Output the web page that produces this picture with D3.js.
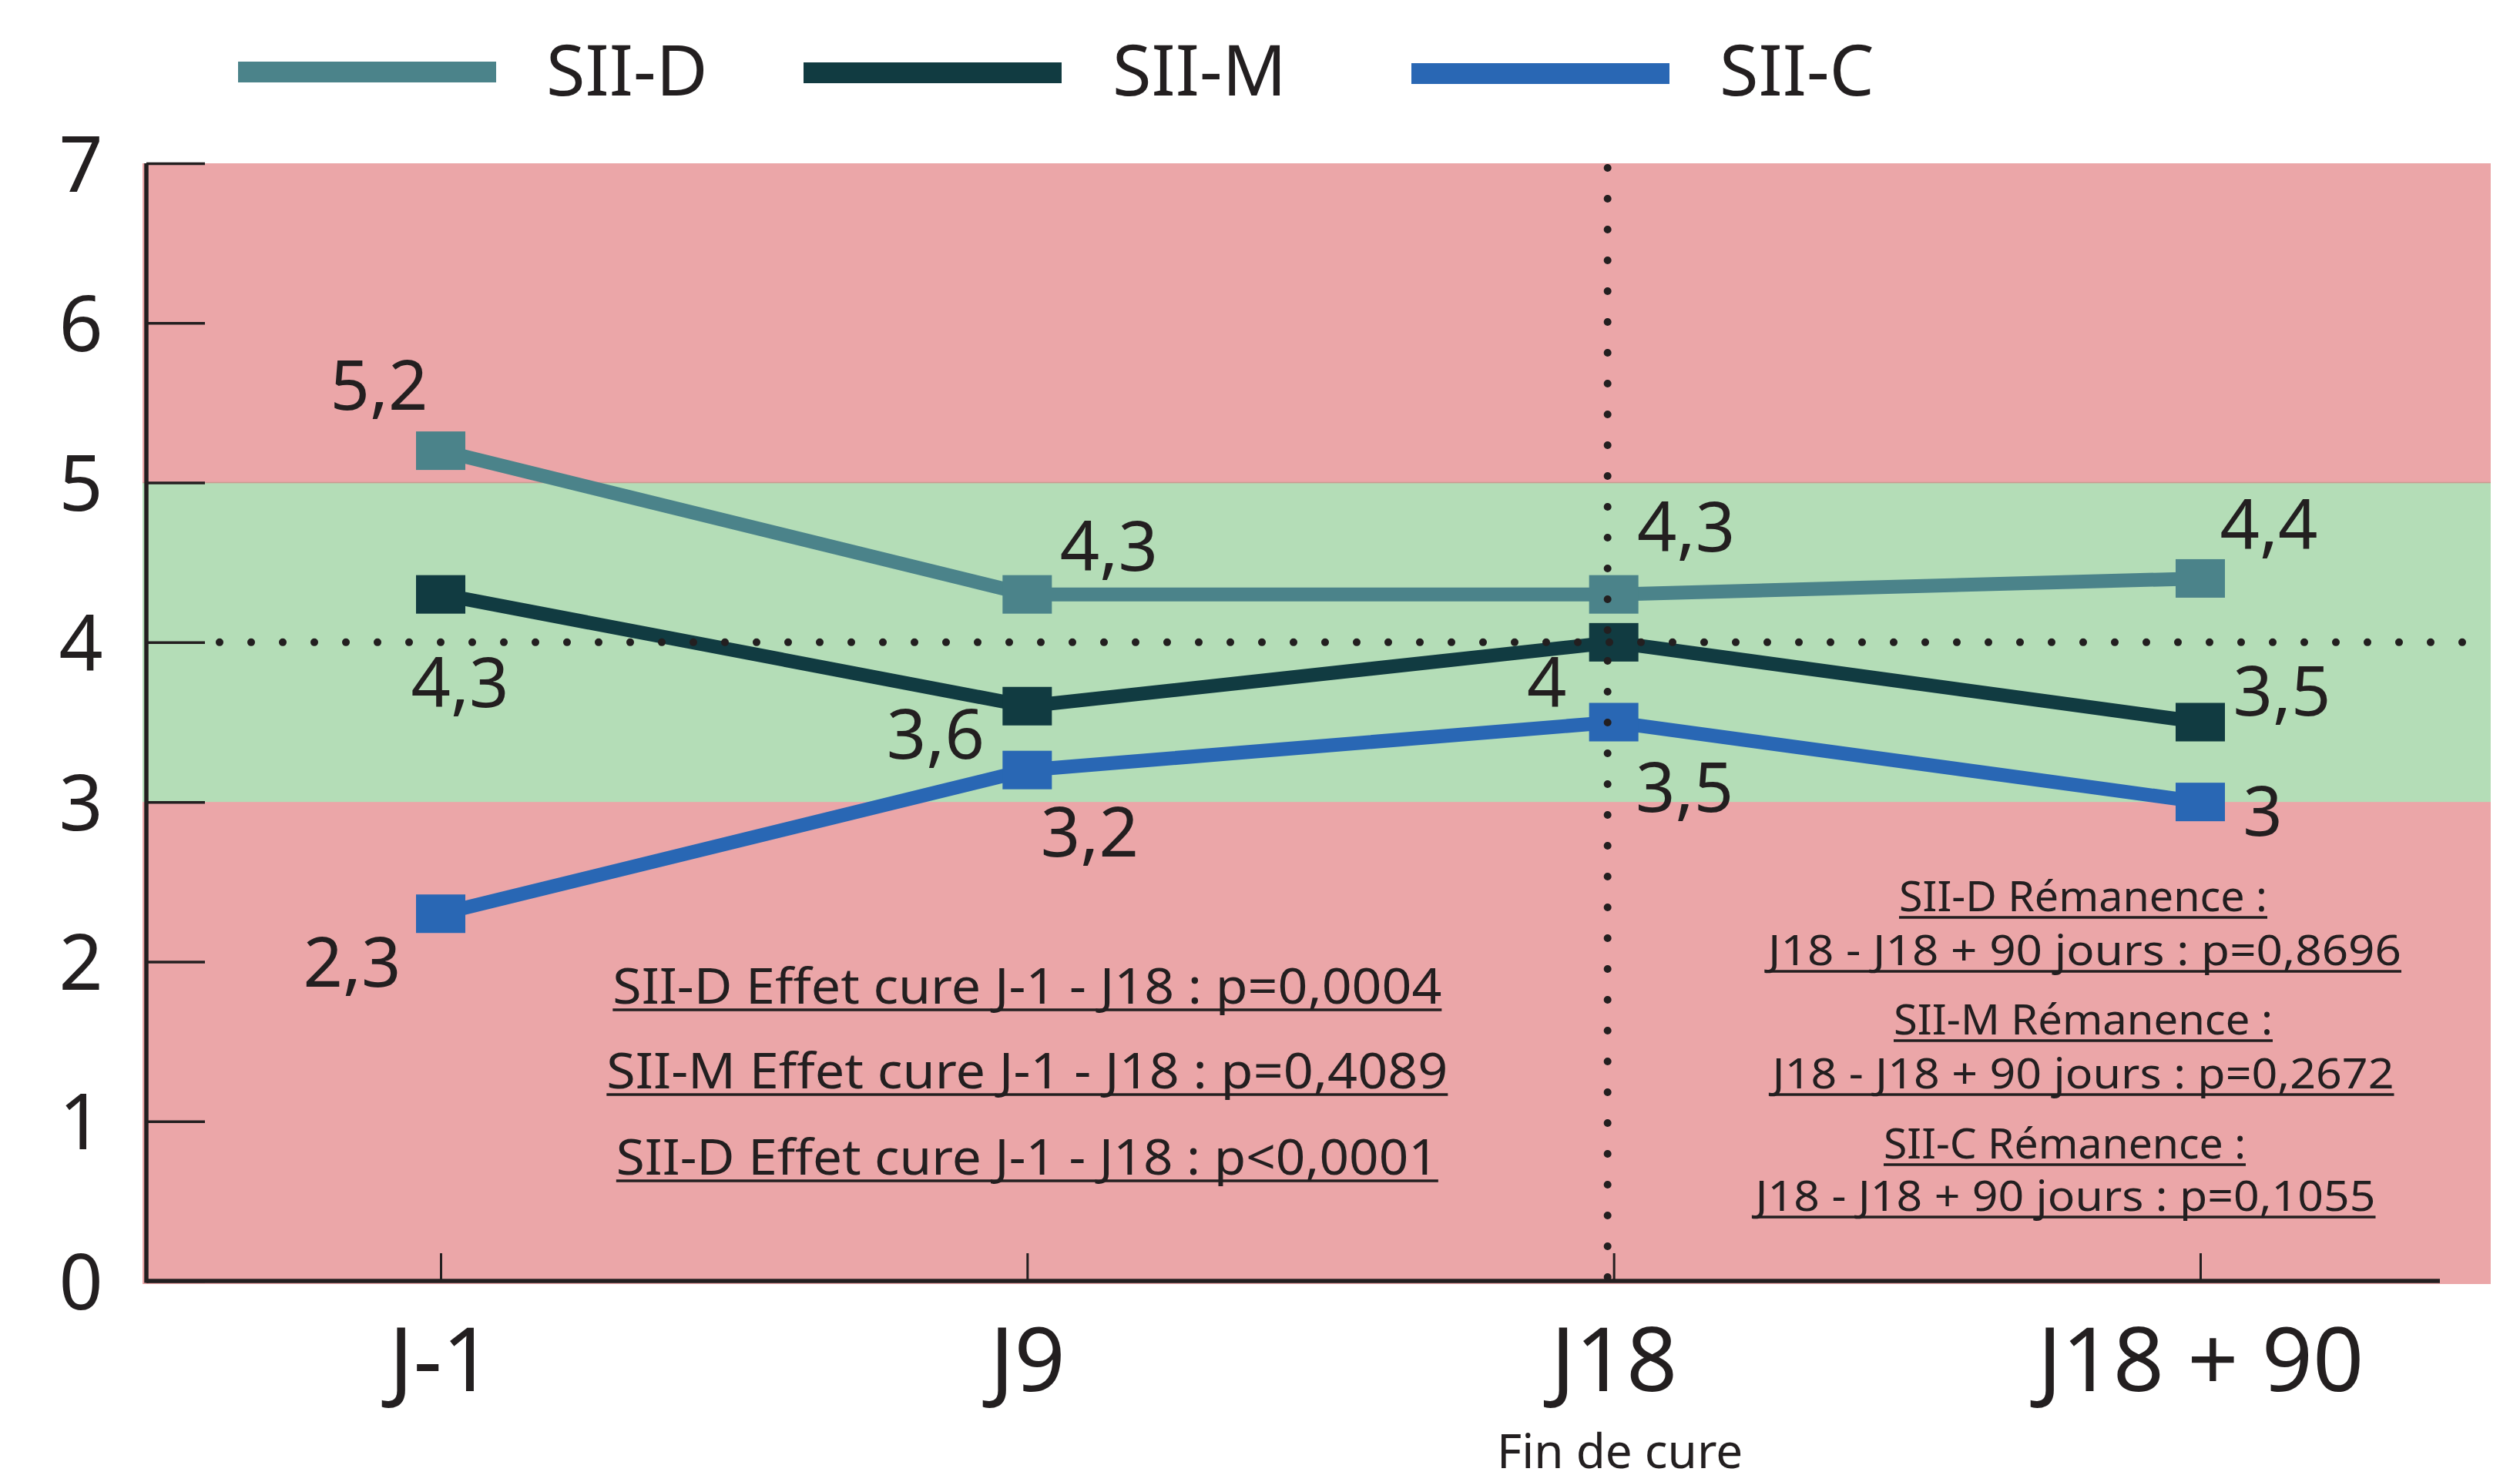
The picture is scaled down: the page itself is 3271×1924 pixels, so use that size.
<!DOCTYPE html>
<html><head><meta charset="utf-8">
<script src="https://cdn.jsdelivr.net/npm/d3@7"></script>
<style>html,body{margin:0;padding:0;background:#fff;}svg{display:block;}</style>
</head><body>
<svg id="c" width="3271" height="1924"></svg>
<script>
const categories = ["J-1", "J9", "J18", "J18 + 90"];
const seriesNames = ["SII-D", "SII-M", "SII-C"];
const siiD = [5.2, 4.3, 4.3, 4.4];
const siiM = [4.3, 3.6, 4.0, 3.5];
const siiC = [2.3, 3.2, 3.5, 3.0];
const yTicks = [0, 1, 2, 3, 4, 5, 6, 7];
const normalBand = [3, 5];
const refLine = 4;
const subLabel = "Fin de cure";
const leftNotes = [
  "SII-D Effet cure J-1 - J18 : p=0,0004",
  "SII-M Effet cure J-1 - J18 : p=0,4089",
  "SII-D Effet cure J-1 - J18 : p<0,0001"
];
const rightNotes = [
  "SII-D Rémanence :",
  "J18 - J18 + 90 jours : p=0,8696",
  "SII-M Rémanence :",
  "J18 - J18 + 90 jours : p=0,2672",
  "SII-C Rémanence :",
  "J18 - J18 + 90 jours : p=0,1055"
];

const colors = ["#4b838a", "#113b41", "#2967b4"];
const ink = "#231f20";
const FONT = "'Noto Sans', 'Open Sans', sans-serif";
const svg = d3.select("#c");

const axisX = 190, plotRight = 3233, xAxisEnd = 3167;
const x = d3.scalePoint().domain(categories).range([572, 2856]);
const y = d3.scaleLinear().domain([0, 7]).range([1663, 212]);

// background bands
svg.append("rect").attr("x", 185).attr("y", y(7)).attr("width", plotRight - 185)
  .attr("height", y(0) + 4 - y(7)).attr("fill", "#eba6a8");
svg.append("rect").attr("x", 185).attr("y", y(normalBand[1])).attr("width", plotRight - 185)
  .attr("height", y(normalBand[0]) - y(normalBand[1])).attr("fill", "#b4ddb7");
svg.append("line").attr("x1", 185).attr("x2", plotRight).attr("y1", y(normalBand[1])).attr("y2", y(normalBand[1]))
  .attr("stroke", "#c99a90").attr("stroke-width", 1.5);

// y axis
const gy = svg.append("g").attr("transform", `translate(${axisX},0)`)
  .call(d3.axisLeft(y).tickValues(yTicks).tickSizeInner(-76).tickSizeOuter(0).tickFormat(d3.format("d")));
gy.select(".domain").remove();
gy.selectAll(".tick line").attr("stroke", ink).attr("stroke-width", 3.5);
gy.selectAll(".tick text").attr("x", -85).attr("dy", "0.36em").attr("text-anchor", "middle")
  .attr("fill", ink).style("font-family", FONT).style("font-size", "100px");

// x axis
const gx = svg.append("g").attr("transform", `translate(0,${y(0)})`)
  .call(d3.axisBottom(x).tickSizeInner(-36).tickSizeOuter(0));
gx.select(".domain").remove();
gx.selectAll(".tick line").attr("stroke", ink).attr("stroke-width", 3);
gx.selectAll(".tick text").attr("y", 143).attr("dy", 0).attr("text-anchor", "middle")
  .attr("fill", ink).style("font-family", FONT).style("font-size", "116px");

// axis lines
svg.append("line").attr("x1", axisX).attr("x2", axisX).attr("y1", y(7)).attr("y2", y(0) + 2.5)
  .attr("stroke", ink).attr("stroke-width", 5.5);
svg.append("line").attr("x1", axisX).attr("x2", xAxisEnd).attr("y1", y(0)).attr("y2", y(0))
  .attr("stroke", ink).attr("stroke-width", 5.5);

svg.append("text").attr("x", x("J18") + 8).attr("y", 1906).attr("text-anchor", "middle")
  .attr("fill", ink).style("font-family", FONT).style("font-size", "62px").text(subLabel);

// series
const allSeries = [siiD, siiM, siiC];
const line = d3.line().x((d, i) => x(categories[i])).y(d => y(d));
const mW = 64, mH = 50;
allSeries.forEach((vals, s) => {
  svg.append("path").datum(vals).attr("d", line).attr("fill", "none")
    .attr("stroke", colors[s]).attr("stroke-width", 18).attr("stroke-linejoin", "miter");
  svg.selectAll(null).data(vals).enter().append("rect")
    .attr("x", (d, i) => x(categories[i]) - mW / 2).attr("y", d => y(d) - mH / 2)
    .attr("width", mW).attr("height", mH).attr("fill", colors[s]);
});

// reference dotted lines (on top, as in the reference)
svg.append("line").attr("x1", x("J18") - 8).attr("x2", x("J18") - 8).attr("y1", y(7) + 6).attr("y2", y(0) + 8)
  .attr("stroke", ink).attr("stroke-width", 10).attr("stroke-linecap", "round").attr("stroke-dasharray", "0 40");
svg.append("line").attr("x1", 285).attr("x2", plotRight).attr("y1", y(refLine)).attr("y2", y(refLine))
  .attr("stroke", ink).attr("stroke-width", 10).attr("stroke-linecap", "round").attr("stroke-dasharray", "0 41");

// value labels (offsets from each marker: label centre dx, baseline dy)
const labelOffsets = [
  [[-80, -53], [106, -31], [94, -56], [89, -38]],
  [[25, 146], [-119, 68], [-87, 84], [106, -9]],
  [[-115, 95], [81, 112], [92, 116], [81, 44]]
];
const fmt = v => String(v).replace(".", ",");
allSeries.forEach((vals, s) => {
  svg.selectAll(null).data(vals).enter().append("text")
    .attr("x", (d, i) => x(categories[i]) + labelOffsets[s][i][0])
    .attr("y", (d, i) => y(d) + labelOffsets[s][i][1])
    .attr("text-anchor", "middle").attr("fill", ink)
    .style("font-family", FONT).style("font-size", "90px").text(d => fmt(d));
});

// legend
const legX = [309, 1043, 1832], legTextX = [709, 1444, 2232];
seriesNames.forEach((n, s) => {
  svg.append("rect").attr("x", legX[s]).attr("y", 80 + s).attr("width", 335).attr("height", 27).attr("fill", colors[s]);
  svg.append("text").attr("x", legTextX[s]).attr("y", 124).attr("fill", ink)
    .style("font-family", FONT).style("font-size", "92px").text(n);
});

// notes
function note(text, cx, base, w, fs) {
  svg.append("text").attr("x", cx).attr("y", base).attr("text-anchor", "middle").attr("fill", ink)
    .attr("textLength", w).attr("lengthAdjust", "spacingAndGlyphs")
    .style("font-family", FONT).style("font-size", fs + "px").text(text);
  svg.append("line").attr("x1", cx - w / 2).attr("x2", cx + w / 2).attr("y1", base + 8).attr("y2", base + 8)
    .attr("stroke", ink).attr("stroke-width", 3.5);
}
const leftBase = [1303, 1413, 1525], leftW = [1076, 1092, 1067];
leftNotes.forEach((t, i) => note(t, x("J9"), leftBase[i], leftW[i], 64));
const rightBase = [1183, 1253, 1343, 1413, 1504, 1572], rightW = [478, 822, 492, 807, 470, 805];
const rightCx = [2704, 2706, 2704, 2704, 2680, 2681];
rightNotes.forEach((t, i) => note(t, rightCx[i], rightBase[i], rightW[i], 54));
</script>
</body></html>
